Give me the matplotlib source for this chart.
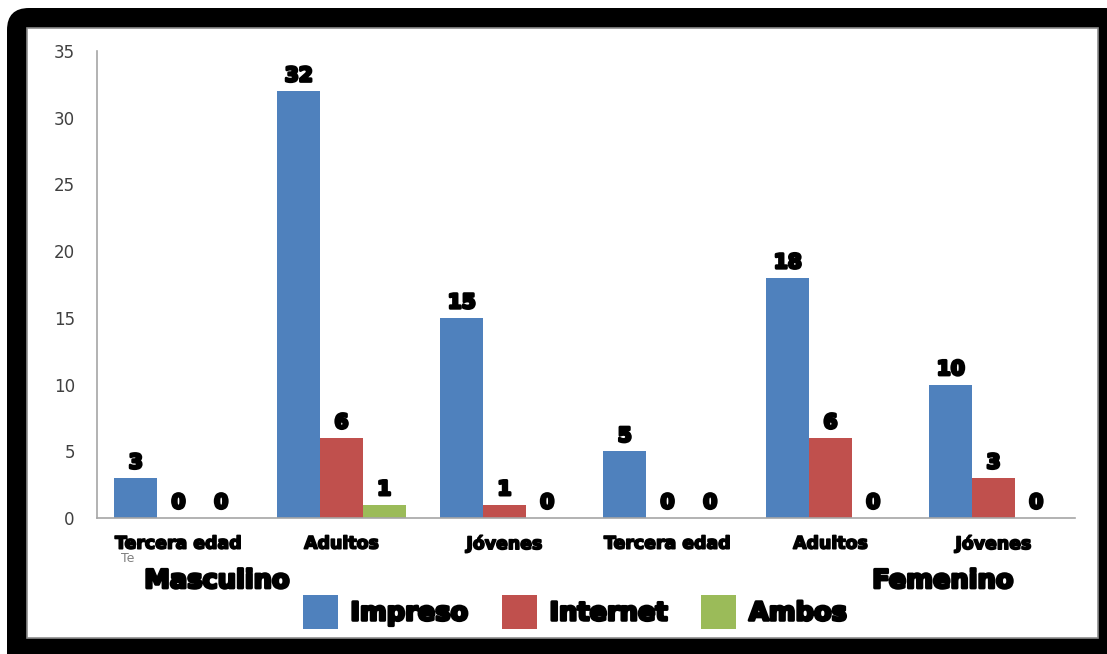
import matplotlib
matplotlib.use("Agg")
import matplotlib.pyplot as plt
import matplotlib.patheffects as pe
from matplotlib.patches import FancyBboxPatch, Rectangle, Patch
import numpy as np

categories = ["Tercera edad", "Adultos", "Jóvenes", "Tercera edad", "Adultos", "Jóvenes"]
groups = ["Masculino", "Femenino"]
series_names = ["Impreso", "Internet", "Ambos"]
impreso = [3, 32, 15, 5, 18, 10]
internet = [0, 6, 1, 0, 6, 3]
ambos = [0, 1, 0, 0, 0, 0]
colors = ["#4F81BD", "#C0504D", "#9BBB59"]
yticks = [0, 5, 10, 15, 20, 25, 30, 35]

W, H = 1107, 654
fig = plt.figure(figsize=(W / 100, H / 100), dpi=100)
fig.patch.set_facecolor("white")

# frame in pixel coordinates
bg = fig.add_axes([0, 0, 1, 1])
bg.set_xlim(0, W)
bg.set_ylim(H, 0)
bg.axis("off")
bg.add_patch(FancyBboxPatch((7, 8), 1120, 670, boxstyle="round,pad=0,rounding_size=22",
                            facecolor="black", edgecolor="none"))
bg.add_patch(Rectangle((27, 28), 1098 - 27, 638 - 28, facecolor="white",
                       edgecolor="#8c8c8c", linewidth=1.2))

ax = fig.add_axes([97 / W, 1 - 518 / H, (1075 - 97) / W, (518 - 51) / H])
ax.set_facecolor("none")
x = np.arange(len(categories))
bw = 0.262
stroke = [pe.withStroke(linewidth=2.0, foreground="black")]
all_series = [impreso, internet, ambos]
for i, (vals, c, name) in enumerate(zip(all_series, colors, series_names)):
    pos = x + (i - 1) * bw
    ax.bar(pos, vals, width=bw, color=c, edgecolor="none", label=name)
    for p, v in zip(pos, vals):
        t = ax.annotate(str(v), (p, v), xytext=(0, 4), textcoords="offset points",
                        ha="center", va="bottom", fontsize=14.5, fontweight="bold",
                        color="black")
        t.set_path_effects(stroke)

ax.set_xlim(-0.5, len(categories) - 0.5)
ax.set_ylim(0, 35)
ax.set_yticks(yticks)
ax.set_yticklabels([str(t) for t in yticks], fontsize=12, color="#404040")
ax.set_xticks(x)
ax.set_xticklabels(categories, fontsize=12.5, fontweight="bold")
for lab in ax.get_xticklabels():
    lab.set_path_effects([pe.withStroke(linewidth=1.2, foreground="black")])
ax.tick_params(axis="y", length=0, pad=16)
ax.tick_params(axis="x", length=0, pad=12)
for s in ["top", "right"]:
    ax.spines[s].set_visible(False)
for s in ["left", "bottom"]:
    ax.spines[s].set_color("#a6a6a6")
    ax.spines[s].set_linewidth(1.2)

# small stray text
bg.text(128, 559, "Te", fontsize=9, color="#7f7f7f", ha="center", va="center")

# group labels
for gx, gname in [(217, groups[0]), (943, groups[1])]:
    bg.text(gx, 581, gname, fontsize=18.5, fontweight="bold", ha="center", va="center",
            path_effects=[pe.withStroke(linewidth=2.0, foreground="black")])

handles = [Patch(facecolor=c, edgecolor="none") for c in colors]
leg = fig.legend(handles, series_names, loc="center", bbox_to_anchor=(575 / W, 1 - 612 / H),
                 ncol=3, frameon=False, prop={"size": 18.5, "weight": "bold"},
                 handlelength=1.35, handleheight=1.65, handletextpad=0.5, columnspacing=1.3,
                 borderpad=0.0)
for t in leg.get_texts():
    t.set_path_effects([pe.withStroke(linewidth=2.0, foreground="black")])

fig.savefig("out.png", dpi=100)
